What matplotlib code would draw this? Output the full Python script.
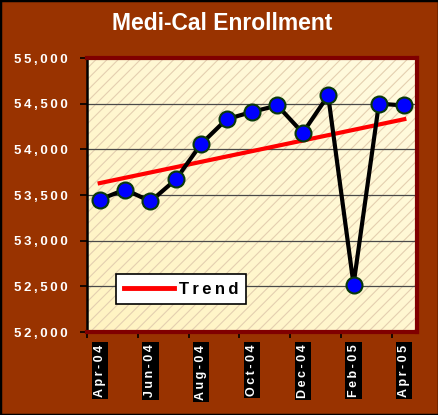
import numpy as np
import matplotlib
matplotlib.use("Agg")
import matplotlib.pyplot as plt
from matplotlib.patches import Rectangle
from matplotlib.ticker import FuncFormatter, FixedLocator

# === DATA ===
months = ["Apr-04", "May-04", "Jun-04", "Jul-04", "Aug-04", "Sep-04", "Oct-04",
          "Nov-04", "Dec-04", "Jan-05", "Feb-05", "Mar-05", "Apr-05"]
enrollment = [53450, 53560, 53430, 53670, 54060, 54330, 54410,
              54480, 54180, 54590, 52520, 54500, 54480]
trend_ends = [53630, 54330]  # trend line at first and last month
y_ticks = [52000, 52500, 53000, 53500, 54000, 54500, 55000]

# === STYLE ===
BG = "#993300"
FONT = ["Liberation Sans", "DejaVu Sans"]
plt.rcParams["font.family"] = FONT
plt.rcParams["hatch.linewidth"] = 0.8


def spaced(s):
    # Excel-style wide letter spacing
    return "\u2009".join(s)


fig = plt.figure(figsize=(4.39, 4.15), dpi=100, facecolor=BG)
fig.patches.append(Rectangle((0, 0), 1, 1, transform=fig.transFigure,
                             fill=False, edgecolor="black", linewidth=2.5))

W, H = 439, 415
ax = fig.add_axes([87 / W, (H - 332) / H, 330 / W, 274 / H])

# plot area: pale yellow gradient with light diagonal hatch
grad = np.linspace(0, 1, 64)
gx, gy = np.meshgrid(grad, grad)
mix = (gx + gy) / 2  # 0 at bottom-left .. 1 at top-right
c0 = np.array([1.0, 0.955, 0.76])
c1 = np.array([1.0, 0.985, 0.88])
img = c0 + (c1 - c0) * mix[..., None]
ax.imshow(img, extent=[0, 1, 0, 1], transform=ax.transAxes, aspect="auto",
          origin="lower", zorder=0)
ax.add_patch(Rectangle((0, 0), 1, 1, transform=ax.transAxes, facecolor="none",
                       edgecolor="#e4cfb0", linewidth=0, hatch="///", zorder=0.5))

x = np.arange(len(months))
ax.plot(x, enrollment, color="black", linewidth=3, marker="o", markersize=11.5,
        markerfacecolor="#0000ff", markeredgecolor="#0a3a0a", markeredgewidth=1.5,
        zorder=4)
ax.plot([x[0], x[-1]], trend_ends, color="#ff0000", linewidth=3, zorder=3,
        label=spaced("Trend"))

ax.set_xlim(-0.5, len(months) - 0.5)
ax.set_ylim(y_ticks[0], y_ticks[-1])

# gridlines
for v in y_ticks[1:-1]:
    ax.axhline(v, color="#4a4a4a", linewidth=0.9, zorder=1)

# y axis
ax.set_yticks(y_ticks)
ax.yaxis.set_major_formatter(FuncFormatter(lambda v, p: spaced(f"{int(v):,}")))
ax.tick_params(axis="y", direction="out", length=5, width=1.2, color="black",
               pad=9, labelcolor="white", labelsize=9.5)
for lab in ax.get_yticklabels():
    lab.set_fontweight("bold")

# x axis: labels every other month, ticks at category boundaries
label_pos = x[::2]
ax.xaxis.set_major_locator(FixedLocator(label_pos))
ax.set_xticklabels([spaced(months[i]) for i in label_pos], rotation=90,
                   fontsize=9, fontweight="bold", color="white",
                   bbox=dict(facecolor="black", edgecolor="none", pad=1.5))
ax.xaxis.set_minor_locator(FixedLocator(np.arange(-0.5, len(months), 2)))
ax.tick_params(axis="x", which="major", length=0, pad=9)
ax.tick_params(axis="x", which="minor", direction="out", length=4, width=1.2,
               color="black")

for side in ["top", "right", "bottom"]:
    ax.spines[side].set_color("#800000")
    ax.spines[side].set_linewidth(3)
ax.spines["left"].set_color("black")
ax.spines["left"].set_linewidth(1.8)

leg = ax.legend(loc="lower left", bbox_to_anchor=(0.088, 0.102), borderaxespad=0,
                frameon=True, fancybox=False, handlelength=3.0, handletextpad=0.3,
                borderpad=0.45, prop={"weight": "bold", "size": 12})
leg.get_frame().set_edgecolor("black")
leg.get_frame().set_linewidth(1.2)
leg.get_frame().set_facecolor("white")
leg.get_frame().set_alpha(1)
for line in leg.get_lines():
    line.set_linewidth(3.5)

fig.text(0.505, 1 - 23 / H, "Medi-Cal Enrollment", ha="center", va="center",
         color="white", fontsize=16.5, fontweight="bold")

fig.savefig("out.png", dpi=100, facecolor=BG)
